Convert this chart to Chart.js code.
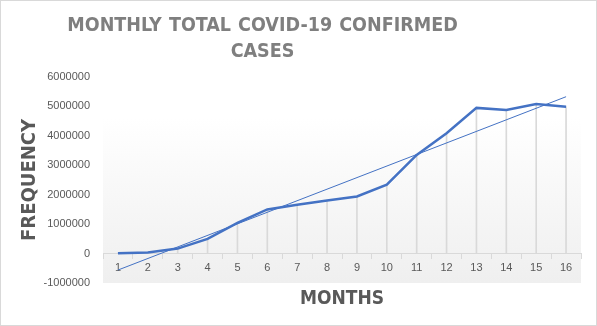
<!DOCTYPE html>
<html lang="en">
<head>
  <meta charset="UTF-8" />
  <title>Monthly Total COVID-19 Confirmed Cases</title>
  <script src="https://cdn.jsdelivr.net/npm/chart.js"></script>
  <style>
    body {
      margin: 0;
      background: white;
    }

    .frame {
      position: relative;
      width: 597px;
      height: 326px;
      border: 1px solid #d9d9d9;
      box-sizing: border-box;
      background: white;
      overflow: hidden;
    }

    .chart-title {
      position: absolute;
      left: 0;
      top: 11px;
      width: 523px;
      text-align: center;
      font-family: 'DejaVu Sans Condensed', 'DejaVu Sans', sans-serif;
      font-stretch: condensed;
      font-weight: bold;
      font-size: 19.5px;
      line-height: 26px;
      word-spacing: 1px;
      color: #7f7f7f;
    }

    canvas {
      display: block;
    }
  </style>
</head>
<body>
  <div class="frame">
    <canvas id="casesChart" width="595" height="324"></canvas>
    <div class="chart-title">MONTHLY TOTAL COVID-19 CONFIRMED<br />CASES</div>
  </div>

  <script>
    const months = ["1", "2", "3", "4", "5", "6", "7", "8", "9", "10", "11", "12", "13", "14", "15", "16"];
    const confirmedCases = [10000, 40000, 170000, 500000, 1040000, 1500000, 1660000, 1800000,
                            1940000, 2340000, 3350000, 4090000, 4950000, 4880000, 5080000, 4990000];
    // linear trendline end values at month 1 and month 16
    const trendStart = -560000;
    const trendEnd = 5330000;
    const yTicks = [-1000000, 0, 1000000, 2000000, 3000000, 4000000, 5000000, 6000000];

    const trendLine = months.map((m, i) => i === 0 ? trendStart : (i === months.length - 1 ? trendEnd : null));

    const titleFont = "'DejaVu Sans Condensed', 'DejaVu Sans', sans-serif";
    const tickFont = { family: "'Liberation Sans', sans-serif", size: 11 };

    // light grey fill behind the plot area, white at top fading to grey
    const plotBackground = {
      id: "plotBackground",
      beforeDraw(chart) {
        const { ctx, chartArea } = chart;
        const grad = ctx.createLinearGradient(0, chartArea.top, 0, chartArea.bottom);
        grad.addColorStop(0, "#ffffff");
        grad.addColorStop(0.2, "#ffffff");
        grad.addColorStop(1, "#efefef");
        ctx.save();
        ctx.fillStyle = grad;
        ctx.fillRect(chartArea.left, chartArea.top, chartArea.right - chartArea.left, chartArea.bottom - chartArea.top);
        ctx.restore();
      },
    };

    const casesChart = new Chart(document.getElementById("casesChart"), {
      type: "line",
      data: {
        labels: months,
        datasets: [
          {
            label: "Confirmed cases",
            data: confirmedCases,
            borderColor: "#4472c4",
            borderWidth: 2.5,
            pointRadius: 0,
            tension: 0,
            order: 1,
          },
          {
            label: "Linear trend",
            data: trendLine,
            borderColor: "#4472c4",
            borderWidth: 1,
            pointRadius: 0,
            spanGaps: true,
            order: 2,
          },
          {
            // drop lines from each point down to the axis
            type: "bar",
            label: "Drop lines",
            data: confirmedCases,
            backgroundColor: "#d9d9d9",
            barThickness: 1,
            order: 3,
          },
        ],
      },
      options: {
        responsive: false,
        animation: false,
        layout: {
          padding: { top: 76, right: 15, bottom: 42, left: 0 },
        },
        plugins: {
          legend: { display: false },
          tooltip: { enabled: false },
        },
        scales: {
          x: {
            position: { y: 0 },
            offset: true,
            grid: {
              offset: true,
              drawOnChartArea: false,
              drawTicks: true,
              tickLength: 5,
              color: "#d9d9d9",
            },
            border: { color: "#d9d9d9", width: 1 },
            ticks: {
              color: "#595959",
              font: tickFont,
              padding: 3,
              maxRotation: 0,
            },
            title: {
              display: true,
              text: "MONTHS",
              color: "#595959",
              font: { family: titleFont, size: 19, weight: "bold" },
              padding: { top: 10, bottom: 0 },
            },
          },
          y: {
            min: -1000000,
            max: 6000000,
            afterFit(scale) {
              scale.width = 102;
            },
            afterBuildTicks(scale) {
              scale.ticks = yTicks.map((v) => ({ value: v }));
            },
            grid: { display: false, drawTicks: false },
            border: { display: false },
            ticks: {
              color: "#595959",
              font: tickFont,
              padding: 13,
              callback: (v) => String(v),
            },
            title: {
              display: true,
              text: "FREQUENCY",
              color: "#595959",
              font: { family: titleFont, size: 20, weight: "bold" },
              padding: { top: 17, bottom: 0 },
            },
          },
        },
      },
      plugins: [plotBackground],
    });
  </script>
</body>
</html>
